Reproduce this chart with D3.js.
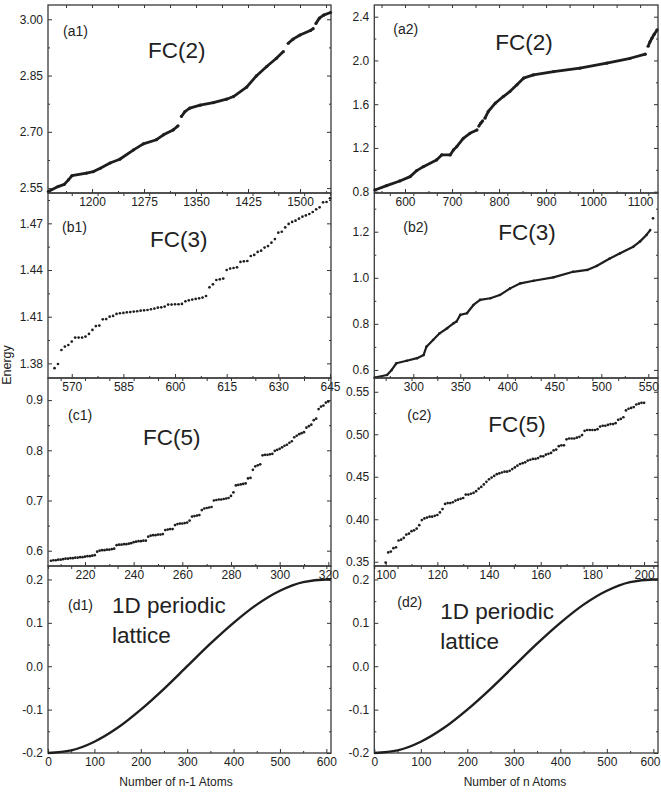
<!DOCTYPE html>
<html>
<head>
<meta charset="utf-8">
<script src="https://cdn.jsdelivr.net/npm/d3@7"></script>
<style>
body { margin: 0; background: #fff; }
svg text { font-family: "Liberation Sans", Arial, sans-serif; }
</style>
</head>
<body>
<script>
// ---- data ----
// (a1) FC(2), n-1 atoms : dense, drawn as thick line (null = visible gap)
const a1X = [1137,1151,1160,1166,1171,1192,1202,1212,1226,1240,1260,1274,1293,1303,1317,1324,null,1329,1334,1341,1356,1375,1394,1404,1423,1437,1452,1466,1476,null,1483,1490,1500,1515,1519,null,1523,1528,1534,1544]
const a1Y = [2.541,2.554,2.560,2.572,2.583,2.590,2.594,2.603,2.617,2.627,2.652,2.668,2.679,2.692,2.705,2.716,null,2.741,2.754,2.763,2.771,2.778,2.787,2.794,2.819,2.849,2.874,2.896,2.914,null,2.936,2.947,2.958,2.970,2.975,null,2.989,3.003,3.011,3.018]

// (a2) FC(2), n atoms
const a2X = [536,561,589,611,625,639,667,678,696,703,710,724,738,753,null,757,761,765,null,770,777,792,809,823,838,852,873,916,972,1029,1079,1111,null,1117,1121,1125,1130,1136]
const a2Y = [0.816,0.856,0.898,0.938,0.993,1.029,1.090,1.136,1.136,1.182,1.212,1.288,1.334,1.365,null,1.400,1.426,1.447,null,1.472,1.533,1.609,1.670,1.716,1.777,1.838,1.868,1.898,1.929,1.975,2.020,2.057,null,2.130,2.170,2.203,2.240,2.279]

// (b1) FC(3), one point per atom count starting at 565
const b1Start = 565
const b1Y = [1.3769,1.3796,1.3886,1.3908,1.3918,1.3940,1.3966,1.3966,1.3966,1.3972,
  1.3989,1.4015,1.4040,1.4043,1.4083,1.4085,1.4100,1.4105,1.4118,1.4122,
  1.4124,1.4128,1.4130,1.4133,1.4135,1.4139,1.4141,1.4143,1.4148,1.4152,
  1.4158,1.4160,1.4165,1.4178,1.4178,1.4180,1.4180,1.4182,1.4199,1.4205,
  1.4210,1.4214,1.4218,1.4223,1.4233,1.4289,1.4308,1.4336,1.4340,1.4345,
  1.4400,1.4409,1.4413,1.4417,1.4452,1.4456,1.4458,1.4490,1.4497,1.4516,
  1.4524,1.4544,1.4554,1.4576,1.4599,1.4640,1.4646,1.4674,1.4696,1.4709,
  1.4717,1.4730,1.4743,1.4751,1.4760,1.4773,1.4790,1.4803,1.4835,1.4837,1.4861]

// (b2) FC(3), n atoms
const b2X = [259,272,277,282,293,304,311,314,321,328,336,343,346,350,357,364,371,382,392,403,414,428,449,470,485,495,509,520,534,541,548,552,null,555]
const b2Y = [0.567,0.578,0.600,0.629,0.640,0.651,0.665,0.701,0.730,0.759,0.781,0.803,0.810,0.839,0.846,0.882,0.904,0.911,0.925,0.954,0.976,0.987,1.002,1.026,1.034,1.051,1.084,1.106,1.135,1.157,1.186,1.207,null,1.258]

// (c1) FC(5), one point per atom count starting at 206
const c1Start = 206
const c1Y = [0.580,0.581,0.581,0.582,0.582,0.583,0.584,0.584,0.585,0.585,
  0.586,0.586,0.587,0.587,0.588,0.589,0.589,0.590,0.591,
  0.598,0.600,0.601,0.601,0.602,0.602,0.603,0.604,
  0.611,0.612,0.612,0.613,0.613,0.614,0.615,
  0.617,0.618,0.619,0.619,0.620,0.620,
  0.628,0.630,0.631,0.631,0.632,0.632,0.633,
  0.641,0.642,0.643,0.643,
  0.651,0.653,0.654,0.654,0.655,0.656,0.660,
  0.668,0.669,0.670,0.671,
  0.681,0.684,0.685,0.686,0.687,
  0.700,0.701,0.702,0.702,0.703,0.704,0.705,0.709,
  0.716,0.730,
  0.731,0.732,0.733,0.734,
  0.744,0.745,
  0.761,0.768,0.770,0.772,
  0.790,0.791,0.791,0.792,0.793,
  0.799,0.801,0.803,
  0.806,0.809,0.811,
  0.815,0.818,0.826,
  0.829,0.832,0.834,
  0.836,0.845,0.848,
  0.851,0.860,0.863,
  0.882,0.887,0.889,
  0.895,0.897]

// (c2) FC(5), one point per atom count starting at 100
const c2Start = 100
const c2Y = [0.349,0.361,0.362,0.366,0.367,0.375,0.376,0.378,0.382,0.383,
  0.386,0.387,0.389,0.393,0.399,0.401,0.402,0.403,0.403,0.404,
  0.405,0.408,0.412,0.418,0.419,0.419,0.420,0.422,0.423,0.424,
  0.425,0.429,0.429,0.430,0.431,0.433,0.436,0.438,0.441,0.444,
  0.447,0.449,0.451,0.453,0.454,0.455,0.456,0.456,0.457,0.459,
  0.461,0.463,0.465,0.466,0.467,0.469,0.470,0.471,0.471,0.472,
  0.474,0.474,0.476,0.477,0.478,0.481,0.482,0.486,0.487,0.487,
  0.494,0.495,0.495,0.495,0.496,0.497,0.499,0.504,0.505,0.505,
  0.505,0.505,0.506,0.509,0.510,0.510,0.511,0.512,0.512,0.513,
  0.517,0.518,0.520,0.528,0.530,0.531,0.532,0.535,0.536,0.537,0.537]

// (d1)/(d2) 1D periodic lattice band
const dX = [0,50,100,150,200,250,300,350,400,450,500,550,600,610]
const dY = [-0.200,-0.194,-0.174,-0.142,-0.100,-0.052,0.000,0.052,0.100,0.142,0.174,0.194,0.200,0.200]

// ---- layout ----
const W = 661, H = 794
const colX = [48, 374.3]
const colW = [283, 283.7]
const rowY = [5, 193, 378, 566, 753]
const ink = '#1e1e1e'

const pairs = (xs, ys) => xs.map((x, i) => ({x: x, y: ys[i]}))
const seq = (start, ys) => ys.map((y, i) => ({x: start + i, y: y}))

const panels = [
  {col:0, row:0, xd:[1136.5,1544.7], yd:[2.537,3.038],
   xt:d3.range(1200,1501,75), xm:d3.range(1162.5,1544,75),
   yt:[2.55,2.70,2.85,3.00], ym:[2.625,2.775,2.925,3.075], yf:2,
   tag:'(a1)', tagAt:[15,31], title:['FC(2)'], titleAt:[100,53],
   kind:'line', w:2.8, pts:pairs(a1X,a1Y)},
  {col:1, row:0, xd:[534.7,1138], yd:[0.788,2.507],
   xt:d3.range(600,1101,100), xm:d3.range(550,1138,100),
   yt:[0.8,1.2,1.6,2.0,2.4], ym:[1.0,1.4,1.8,2.2], yf:1,
   tag:'(a2)', tagAt:[19,29], title:['FC(2)'], titleAt:[121,45],
   kind:'line', w:2.8, pts:pairs(a2X,a2Y)},
  {col:0, row:1, xd:[563.1,645.3], yd:[1.3706,1.4895],
   xt:d3.range(570,646,15), xm:d3.range(577.5,645,15),
   yt:[1.38,1.41,1.44,1.47], ym:[1.395,1.425,1.455,1.485], yf:2,
   tag:'(b1)', tagAt:[14,39], title:['FC(3)'], titleAt:[102,54],
   kind:'dots', pts:seq(b1Start,b1Y)},
  {col:1, row:1, xd:[258.5,560.3], yd:[0.565,1.368],
   xt:d3.range(300,551,50), xm:d3.range(275,560,50),
   yt:[0.6,0.8,1.0,1.2], ym:[0.7,0.9,1.1,1.3], yf:1,
   tag:'(b2)', tagAt:[29,39], title:['FC(3)'], titleAt:[124,47],
   kind:'line', w:2.2, pts:pairs(b2X,b2Y)},
  {col:0, row:2, xd:[204.8,321.1], yd:[0.5695,0.944],
   xt:d3.range(220,321,20), xm:d3.range(210,321,20),
   yt:[0.6,0.7,0.8,0.9], ym:[0.65,0.75,0.85], yf:1,
   tag:'(c1)', tagAt:[20,42], title:['FC(5)'], titleAt:[95,67],
   kind:'dots', pts:seq(c1Start,c1Y)},
  {col:1, row:2, xd:[95.6,205.4], yd:[0.345,0.5662],
   xt:d3.range(100,201,20), xm:d3.range(110,205,20),
   yt:[0.35,0.40,0.45,0.50,0.55], ym:[0.375,0.425,0.475,0.525], yf:2,
   tag:'(c2)', tagAt:[33,42], title:['FC(5)'], titleAt:[114,54],
   kind:'dots', pts:seq(c2Start,c2Y)},
  {col:0, row:3, xd:[0,610], yd:[-0.2,0.231],
   xt:d3.range(0,601,100), xm:d3.range(50,610,100),
   yt:[-0.2,-0.1,0,0.1,0.2], ym:[-0.15,-0.05,0.05,0.15], yf:1,
   tag:'(d1)', tagAt:[20,44], title:['1D periodic','lattice'], titleAt:[64,47],
   kind:'curve', pts:pairs(dX,dY)},
  {col:1, row:3, xd:[0,610], yd:[-0.2,0.231],
   xt:d3.range(0,601,100), xm:d3.range(50,610,100),
   yt:[-0.2,-0.1,0,0.1,0.2], ym:[-0.15,-0.05,0.05,0.15], yf:1,
   tag:'(d2)', tagAt:[23,41], title:['1D periodic','lattice'], titleAt:[66,53],
   kind:'curve', pts:pairs(dX,dY)}
]

const svg = d3.select('body').append('svg')
  .attr('width', W).attr('height', H)

const styleAxis = function(sel){
  sel.select('.domain').remove()
  sel.attr('font-size', 12).attr('font-family', '"Liberation Sans", Arial, sans-serif')
    .attr('color', '#333')
  sel.selectAll('line').attr('stroke-width', 1)
  sel.selectAll('text').attr('fill', '#222')
}

panels.forEach(p => {
  const x0 = colX[p.col], y0 = rowY[p.row]
  const w = colW[p.col], h = rowY[p.row + 1] - rowY[p.row]
  const g = svg.append('g').attr('transform', `translate(${x0},${y0})`)

  const x = d3.scaleLinear().domain(p.xd).range([0, w])
  const y = d3.scaleLinear().domain(p.yd).range([h, 0])

  // ticks, all pointing inward
  const bottom = g.append('g').attr('transform', `translate(0,${h})`)
    .call(d3.axisBottom(x).tickValues(p.xt).tickSize(-4).tickPadding(4).tickFormat(d3.format('d')))
    .call(styleAxis)
  // keep a label that would run past the page edge inside the picture
  bottom.selectAll('text').attr('dx', function(d){
    const right = x0 + x(d) + this.getComputedTextLength() / 2
    return right > W - 1 ? (W - 1 - right) : 0
  })
  g.append('g').attr('transform', `translate(0,${h})`)
    .call(d3.axisBottom(x).tickValues(p.xm).tickSize(-2).tickFormat(''))
    .call(styleAxis)
  g.append('g')
    .call(d3.axisTop(x).tickValues(p.xt.concat(p.xm)).tickSize(-3).tickFormat(''))
    .call(styleAxis)
  g.append('g')
    .call(d3.axisLeft(y).tickValues(p.yt).tickSize(-4).tickPadding(5).tickFormat(d => d.toFixed(p.yf)))
    .call(styleAxis)
  g.append('g')
    .call(d3.axisLeft(y).tickValues(p.ym.filter(v => v < p.yd[1])).tickSize(-2).tickFormat(''))
    .call(styleAxis)
  g.append('g').attr('transform', `translate(${w},0)`)
    .call(d3.axisRight(y).tickValues(p.yt).tickSize(-4).tickFormat(''))
    .call(styleAxis)
  g.append('g').attr('transform', `translate(${w},0)`)
    .call(d3.axisRight(y).tickValues(p.ym.filter(v => v < p.yd[1])).tickSize(-2).tickFormat(''))
    .call(styleAxis)

  // frame
  g.append('rect').attr('width', w).attr('height', h)
    .attr('fill', 'none').attr('stroke', '#3a3a3a').attr('stroke-width', 1.3)

  // data
  if (p.kind === 'dots') {
    g.selectAll('circle.pt').data(p.pts).enter().append('circle')
      .attr('class', 'pt')
      .attr('cx', d => x(d.x)).attr('cy', d => y(d.y))
      .attr('r', 1.35).attr('fill', ink)
  } else if (p.kind === 'line') {
    const line = d3.line().defined(d => d.y != null)
      .x(d => x(d.x)).y(d => y(d.y))
    g.append('path').datum(p.pts).attr('d', line)
      .attr('fill', 'none').attr('stroke', ink)
      .attr('stroke-width', p.w).attr('stroke-linejoin', 'round')
    g.selectAll('circle.pt').data(p.pts.filter(d => d.y != null)).enter().append('circle')
      .attr('class', 'pt')
      .attr('cx', d => x(d.x)).attr('cy', d => y(d.y))
      .attr('r', p.w / 2 + 0.2).attr('fill', ink)
  } else {
    const line = d3.line().curve(d3.curveMonotoneX)
      .x(d => x(d.x)).y(d => y(d.y))
    g.append('path').datum(p.pts).attr('d', line)
      .attr('fill', 'none').attr('stroke', ink).attr('stroke-width', 2.4)
  }

  // panel labels
  g.append('text').attr('x', p.tagAt[0]).attr('y', p.tagAt[1])
    .attr('font-size', 14).attr('fill', '#222').text(p.tag)
  p.title.forEach((t, i) => {
    g.append('text').attr('x', p.titleAt[0]).attr('y', p.titleAt[1] + i * 30)
      .attr('font-size', 22.5).attr('fill', '#222').text(t)
  })
})

// shared axis titles
svg.append('text')
  .attr('transform', 'translate(11,365) rotate(-90)')
  .attr('text-anchor', 'middle').attr('font-size', 12.5).attr('fill', '#222')
  .text('Energy')
svg.append('text').attr('x', 176).attr('y', 786)
  .attr('text-anchor', 'middle').attr('font-size', 12).attr('fill', '#222')
  .text('Number of n-1 Atoms')
svg.append('text').attr('x', 515).attr('y', 786)
  .attr('text-anchor', 'middle').attr('font-size', 12).attr('fill', '#222')
  .text('Number of n Atoms')
</script>
</body>
</html>
